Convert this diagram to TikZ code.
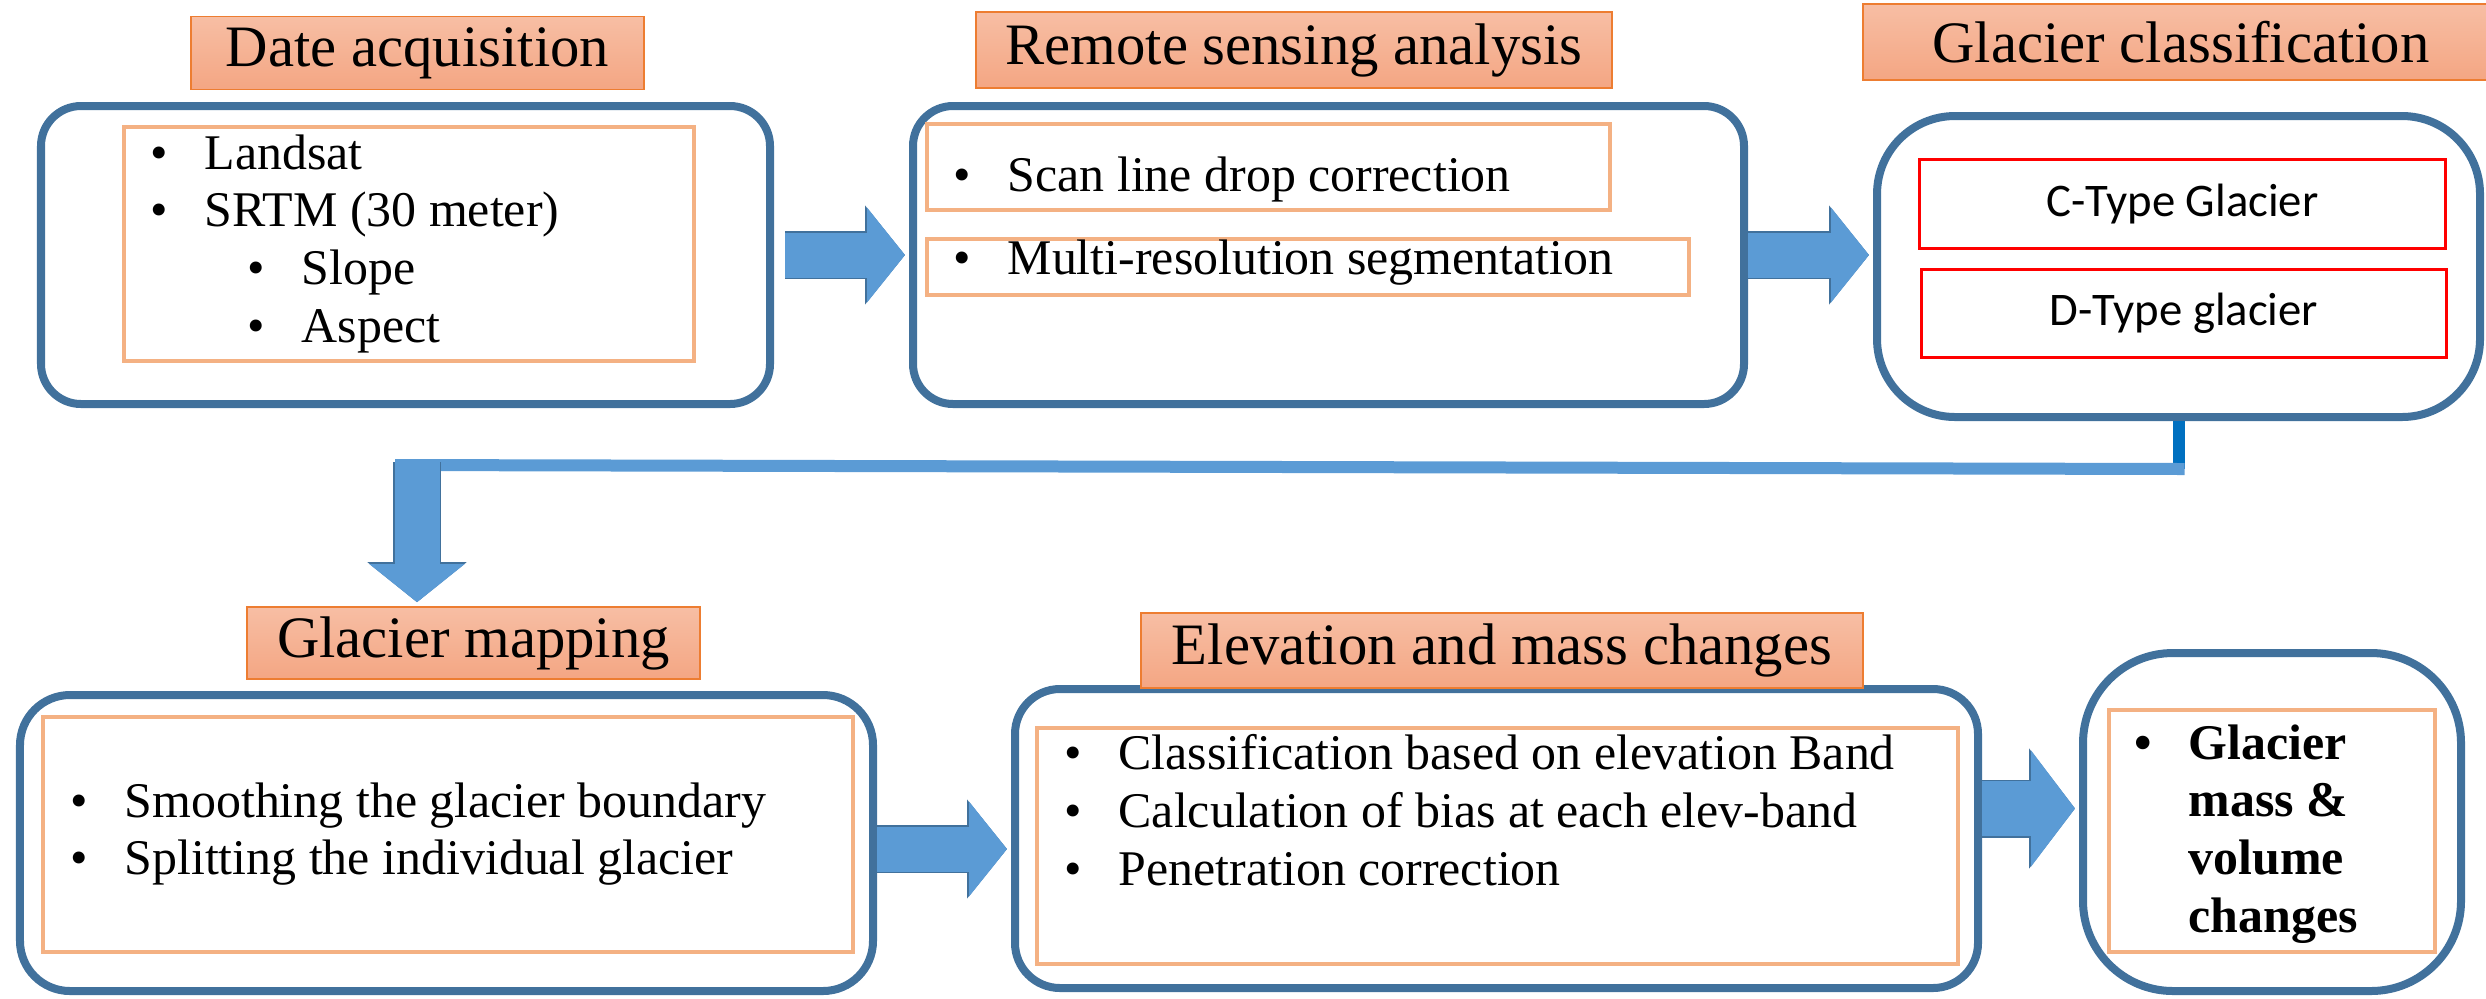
\documentclass[tikz,border=0pt]{standalone}
\usepackage{fontspec}
\setmainfont{Liberation Serif}
\newfontfamily\calfont{Carlito}
\usetikzlibrary{arrows.meta}
\definecolor{boxline}{HTML}{41719C}
\definecolor{listline}{HTML}{F4B183}
\definecolor{headline}{HTML}{ED7D31}
\definecolor{headtop}{HTML}{F7BEA4}
\definecolor{headbot}{HTML}{F4A683}
\definecolor{arrowfill}{HTML}{5B9BD5}
\definecolor{linkblue}{HTML}{0070C0}
\newcommand{\itm}[1]{\makebox[0.54cm][l]{\textbullet}#1}
\newcommand{\sitm}[1]{\hspace*{0.97cm}\makebox[0.54cm][l]{\textbullet}#1}
\tikzset{stagebox/.style={draw=boxline,line width=0.08cm,fill=white,inner sep=0pt},titlebox/.style={draw=headline,line width=0.45pt,top color=headtop,bottom color=headbot,inner sep=0pt,font=\fontsize{16.7}{20}\selectfont},listbox/.style={draw=listline,line width=0.04cm,inner sep=0pt},typebox/.style={draw=red,line width=0.03cm,inner sep=0pt,font=\calfont\fontsize{13.3}{16}\selectfont},listtxt/.style={align=left,inner sep=0pt,anchor=north west,font=\fontsize{14.2}{16.4}\selectfont},flowarrow/.style={draw=arrowfill,line width=0.45cm,-{Triangle[length=0.38cm,width=0.93cm]},preaction={draw=boxline,line width=0.48cm,-{Triangle[length=0.40cm,width=0.97cm]}}},widearrow/.style={draw=arrowfill,line width=0.55cm,-{Triangle[length=0.44cm,width=1.14cm]},preaction={draw=boxline,line width=0.58cm,-{Triangle[length=0.46cm,width=1.18cm]}}},linkbar/.style={draw=arrowfill,line width=0.12cm},linkdark/.style={draw=linkblue,line width=0.12cm}}
\begin{document}
\begin{tikzpicture}
\useasboundingbox (0,0) rectangle (24.86,-9.98);
\clip (0,0) rectangle (24.86,-9.98);
% stages
\node[stagebox,rounded corners=0.4cm,minimum width=7.29cm,minimum height=2.98cm] (dataBox) at (4.055,-2.55) {};
\node[stagebox,rounded corners=0.4cm,minimum width=8.31cm,minimum height=2.98cm] (senseBox) at (13.285,-2.55) {};
\node[stagebox,rounded corners=0.78cm,minimum width=6.03cm,minimum height=3.01cm] (classBox) at (21.785,-2.665) {};
\node[stagebox,rounded corners=0.5cm,minimum width=8.53cm,minimum height=2.96cm] (mapBox) at (4.465,-8.43) {};
\node[stagebox,rounded corners=0.45cm,minimum width=9.63cm,minimum height=2.99cm] (massBox) at (14.965,-8.385) {};
\node[stagebox,rounded corners=0.9cm,minimum width=3.78cm,minimum height=3.38cm] (resultBox) at (22.72,-8.22) {};
% inner lists
\node[listbox,minimum width=5.70cm,minimum height=2.34cm] (dataIn) at (4.09,-2.44) {};
\node[listbox,minimum width=6.83cm,minimum height=0.86cm] (scanIn) at (12.685,-1.67) {};
\node[listbox,minimum width=7.62cm,minimum height=0.56cm] (segIn) at (13.08,-2.67) {};
\node[listbox,minimum width=8.10cm,minimum height=2.35cm] (mapIn) at (4.48,-8.345) {};
\node[listbox,minimum width=9.21cm,minimum height=2.36cm] (massIn) at (14.975,-8.46) {};
\node[listbox,minimum width=3.26cm,minimum height=2.42cm] (resIn) at (22.72,-8.31) {};
\node[listtxt] (dataTxt) at (1.50,-1.34) {\itm{Landsat}\\\itm{SRTM (30 meter)}\\\sitm{Slope}\\\sitm{Aspect}};
\node[listtxt] (scanTxt) at (9.53,-1.56) {\itm{Scan line drop correction}};
\node[listtxt] (segTxt) at (9.53,-2.39) {\itm{Multi-resolution segmentation}};
\node[listtxt] (mapTxt) at (0.70,-7.82) {\itm{Smoothing the glacier boundary}\\\itm{Splitting the individual glacier}};
\node[listtxt] (massTxt) at (10.64,-7.34) {\itm{Classification based on elevation Band}\\\itm{Calculation of bias at each elev-band}\\\itm{Penetration correction}};
\node[listtxt,font=\bfseries\fontsize{14.2}{16.4}\selectfont] (resTxt) at (21.34,-7.24) {\itm{Glacier}\\\hspace*{0.54cm}mass \&\\\hspace*{0.54cm}volume\\\hspace*{0.54cm}changes};
\node[typebox,minimum width=5.26cm,minimum height=0.89cm] (cType) at (21.825,-2.04) {C-Type Glacier};
\node[typebox,minimum width=5.25cm,minimum height=0.88cm] (dType) at (21.84,-3.135) {D-Type glacier};
% titles
\node[titlebox,minimum width=4.53cm,minimum height=0.73cm] (dataT) at (4.175,-0.53) {Date acquisition};
\node[titlebox,minimum width=6.36cm,minimum height=0.76cm] (senseT) at (12.94,-0.50) {Remote sensing analysis};
\node[titlebox,minimum width=6.36cm,minimum height=0.76cm] (classT) at (21.81,-0.42) {Glacier classification};
\node[titlebox,minimum width=4.53cm,minimum height=0.72cm] (mapT) at (4.735,-6.43) {Glacier mapping};
\node[titlebox,minimum width=7.22cm,minimum height=0.75cm] (massT) at (15.02,-6.505) {Elevation and mass changes};
% arrows
\draw[flowarrow,shorten <=0.11cm,shorten >=0.04cm] (dataBox.east) -- (dataBox.east -| senseBox.west);
\draw[flowarrow,shorten >=0.04cm] (senseBox.east) -- (senseBox.east -| classBox.west);
\coordinate (elbow) at ([yshift=-0.48cm]classBox.south);
\coordinate (drop) at (4.17,-4.65);
\draw[linkdark] (classBox.south) -- (elbow);
\draw[linkbar] ([xshift=-0.22cm]drop) -- ([xshift=0.06cm]elbow);
\draw[flowarrow,shorten >=0.04cm] ([yshift=0.03cm]drop) -- (drop |- mapT.north);
\coordinate (a4) at ([yshift=-0.06cm]mapBox.east);
\draw[flowarrow,shorten >=0.04cm] (a4) -- (a4 -| massBox.west);
\coordinate (a5) at ([yshift=0.3cm]massBox.east);
\draw[widearrow,shorten >=0.04cm] (a5) -- (a5 -| resultBox.west);
\end{tikzpicture}
\end{document}
